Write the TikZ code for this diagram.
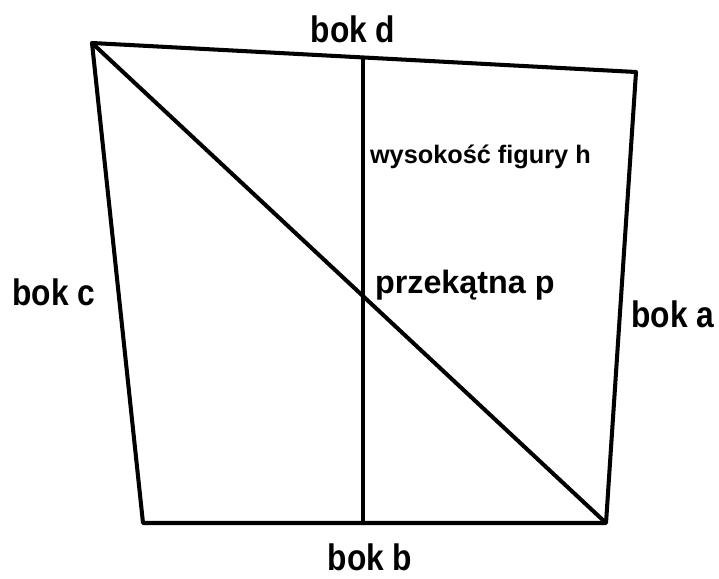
\documentclass[tikz,border=0pt]{standalone}
\usepackage{fontspec}
\setmainfont{Liberation Sans}
\newfontfamily\bokfont[FakeStretch=0.86]{Liberation Sans}
\usepackage{tikz}

\begin{document}
\begin{tikzpicture}[x=0.02cm, y=-0.02cm, line width=2.3pt, line join=round,
    bok/.style={font=\bokfont\bfseries\fontsize{21}{24}\selectfont, inner sep=0pt},
    opis/.style={font=\bfseries, inner sep=0pt}]

\useasboundingbox (0,0) rectangle (719,578);

% Wierzcholki
\coordinate (A) at (92,43);
\coordinate (B) at (636,72);
\coordinate (C) at (606,523);
\coordinate (D) at (143,523);
\coordinate (Hg) at (363,57.4);
\coordinate (Hd) at (363,523);

% Czworokat
\draw (A) -- (B) -- (C) -- (D) -- cycle;

% Przekatna i wysokosc
\draw (A) -- (C);
\draw (Hg) -- (Hd);

% Opisy
\node[bok, anchor=base] (bd) at (353,42) {bok d};
\node[bok, anchor=base] (bb) at (370,570) {bok b};
\node[bok, anchor=base] (bc) at (54,305) {bok c};
\node[bok, anchor=base] (ba) at (673,327) {bok a};

\node[opis, anchor=base west, font=\bfseries\fontsize{18.4}{21}\selectfont] (p) at (373,293) {przekątna p};
\node[opis, anchor=base west, font=\bfseries\fontsize{14.4}{17}\selectfont] (h) at (368,163) {wysokość figury h};

\end{tikzpicture}
\end{document}
